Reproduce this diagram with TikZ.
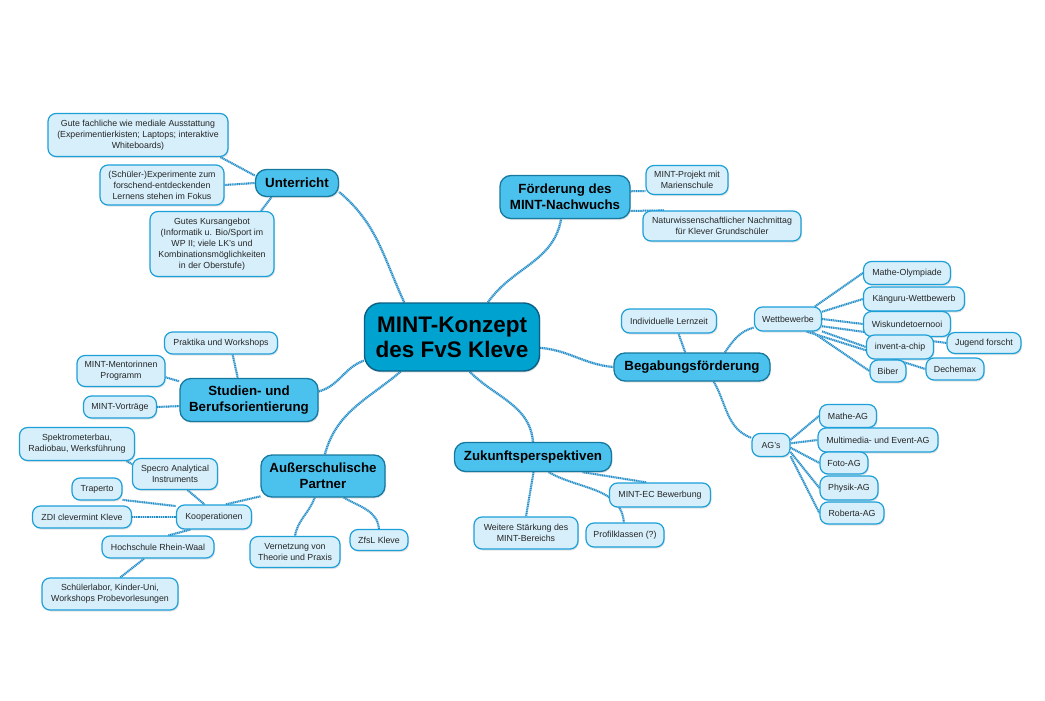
\documentclass[tikz,border=0pt]{standalone}
\usepackage{fontspec}
\setmainfont{Liberation Sans}
\usetikzlibrary{backgrounds,shadows}
\definecolor{hubfill}{HTML}{00A2D0}
\definecolor{hubline}{HTML}{0B5F84}
\definecolor{topfill}{HTML}{4BC2ED}
\definecolor{topline}{HTML}{16799F}
\definecolor{leaffill}{HTML}{D6EFFB}
\definecolor{leafline}{HTML}{1D9FD8}
\definecolor{linecol}{HTML}{1F8CC8}
\tikzset{
  shad/.style={drop shadow={opacity=0.22, shadow xshift=1pt, shadow yshift=-1.5pt}},
  hub/.style={shad, rectangle, rounded corners=16pt, draw=hubline, fill=hubfill, line width=1.4pt,
    font=\fontsize{22.5}{25}\selectfont\bfseries, align=center, inner sep=1pt},
  topic/.style={shad, rectangle, rounded corners=11pt, draw=topline, fill=topfill, line width=1.3pt,
    font=\fontsize{13.3}{16}\selectfont\bfseries, align=center, inner sep=1pt},
  leaf/.style={shad, rectangle, rounded corners=8pt, draw=leafline, fill=leaffill, line width=1.2pt,
    font=\fontsize{8.8}{11}\selectfont, align=center, inner sep=1pt, text=black!85},
  branch/.style={draw=linecol!40, line width=2.2pt,
    postaction={draw=linecol, line width=2.2pt, dash pattern=on 0.9pt off 0.9pt}},
  twig/.style={draw=linecol!40, line width=2pt,
    postaction={draw=linecol, line width=2pt, dash pattern=on 0.9pt off 0.9pt}},
}
\begin{document}
\begin{tikzpicture}[x=1pt, y=-1pt]
\useasboundingbox (0,0) rectangle (1045,701);

% centre
\node[hub, minimum width=175, minimum height=68] (c) at (452,337) {MINT-Konzept\\des FvS Kleve};

% Unterricht
\node[topic, minimum width=83, minimum height=27] (u) at (297,183) {Unterricht};
\node[leaf, minimum width=180, minimum height=43] (u1) at (138,135) {Gute fachliche wie mediale Ausstattung\\(Experimentierkisten; Laptops; interaktive\\Whiteboards)};
\node[leaf, minimum width=124, minimum height=40] (u2) at (162,185) {(Schüler-)Experimente zum\\forschend-entdeckenden\\Lernens stehen im Fokus};
\node[leaf, minimum width=124, minimum height=65] (u3) at (212,244) {Gutes Kursangebot\\(Informatik u. Bio/Sport im\\WP II; viele LK's und\\Kombinationsmöglichkeiten\\in der Oberstufe)};

% Foerderung
\node[topic, minimum width=130, minimum height=43] (f) at (565,197) {Förderung des\\MINT-Nachwuchs};
\node[leaf, minimum width=82, minimum height=29] (f1) at (687,180) {MINT-Projekt mit\\Marienschule};
\node[leaf, minimum width=158, minimum height=30] (f2) at (722,226) {Naturwissenschaftlicher Nachmittag\\für Klever Grundschüler};

% Begabungsfoerderung
\node[topic, minimum width=156, minimum height=28] (b) at (692,367) {Begabungsförderung};
\node[leaf, minimum width=95, minimum height=24] (il) at (669,321) {Individuelle Lernzeit};
\node[leaf, minimum width=67, minimum height=24] (w) at (788,319) {Wettbewerbe};
\node[leaf, minimum width=87, minimum height=23] (w1) at (907,273) {Mathe-Olympiade};
\node[leaf, minimum width=101, minimum height=24] (w2) at (914,299) {Känguru-Wettbewerb};
\node[leaf, minimum width=87, minimum height=25] (w3) at (907,324) {Wiskundetoernooi};
\node[leaf, minimum width=67, minimum height=24] (w4) at (900,347) {invent-a-chip};
\node[leaf, minimum width=74, minimum height=21] (w5) at (984,343) {Jugend forscht};
\node[leaf, minimum width=36, minimum height=22] (w6) at (888,371) {Biber};
\node[leaf, minimum width=58, minimum height=22] (w7) at (955,369) {Dechemax};
\node[leaf, minimum width=38, minimum height=23] (ag) at (771,445) {AG's};
\node[leaf, minimum width=57, minimum height=23] (a1) at (848,416) {Mathe-AG};
\node[leaf, minimum width=120, minimum height=24] (a2) at (878,440) {Multimedia- und Event-AG};
\node[leaf, minimum width=48, minimum height=22] (a3) at (844,463) {Foto-AG};
\node[leaf, minimum width=58, minimum height=24] (a4) at (849,488) {Physik-AG};
\node[leaf, minimum width=64, minimum height=22] (a5) at (852,513) {Roberta-AG};

% Studien- und Berufsorientierung
\node[topic, minimum width=138, minimum height=43] (s) at (249,400) {Studien- und\\Berufsorientierung};
\node[leaf, minimum width=113, minimum height=22] (s1) at (221,343) {Praktika und Workshops};
\node[leaf, minimum width=88, minimum height=31] (s2) at (121,371) {MINT-Mentorinnen\\Programm};
\node[leaf, minimum width=73, minimum height=22] (s3) at (120,407) {MINT-Vorträge};

% Ausserschulische Partner
\node[topic, minimum width=124, minimum height=42] (a) at (323,476) {Außerschulische\\Partner};
\node[leaf, minimum width=75, minimum height=24] (k) at (214,517) {Kooperationen};
\node[leaf, minimum width=115, minimum height=33] (k1) at (77,444) {Spektrometerbau,\\Radiobau, Werksführung};
\node[leaf, minimum width=85, minimum height=31] (k2) at (175,474) {Specro Analytical\\Instruments};
\node[leaf, minimum width=50, minimum height=22] (k3) at (97,489) {Traperto};
\node[leaf, minimum width=99, minimum height=22] (k4) at (82,517) {ZDI clevermint Kleve};
\node[leaf, minimum width=112, minimum height=22] (k5) at (158,547) {Hochschule Rhein-Waal};
\node[leaf, minimum width=136, minimum height=32] (k6) at (110,594) {Schülerlabor, Kinder-Uni,\\Workshops Probevorlesungen};
\node[leaf, minimum width=90, minimum height=31] (v) at (295,552) {Vernetzung von\\Theorie und Praxis};
\node[leaf, minimum width=58, minimum height=21] (zf) at (379,540) {ZfsL Kleve};

% Zukunftsperspektiven
\node[topic, minimum width=157, minimum height=29] (z) at (533,457) {Zukunftsperspektiven};
\node[leaf, minimum width=101, minimum height=24] (z1) at (660,495) {MINT-EC Bewerbung};
\node[leaf, minimum width=104, minimum height=32] (z2) at (526,533) {Weitere Stärkung des\\MINT-Bereichs};
\node[leaf, minimum width=78, minimum height=24] (z3) at (625,535) {Profilklassen (?)};

\begin{scope}[on background layer]
\fill[white] (0,0) rectangle (1045,701);
% main branches
\draw[branch] (c.144) to[out=115,in=-40] (u.-12);
\draw[branch] (c.44) to[out=55,in=-100] (f.-100);
\draw[branch] (c.-7) to[out=-5,in=175] (b.west);
\draw[branch] (c.195) to[out=200,in=15] (s.7);
\draw[branch] (c.214) to[out=-140,in=75] (a.85);
\draw[branch] (c.-63) to[out=-45,in=95] (z.north);
% Unterricht
\draw[twig] (u1.-15) -- (u.170);
\draw[twig] (u2.east) -- (u.west);
\draw[twig] (u3.34) -- (u.209);
% Foerderung
\draw[twig] (f.5) -- (f1.195);
\draw[twig] (f.-12) -- (f2.165);
% Begabung
\draw[twig] (b.115) -- (il.-53);
\draw[twig] (b.24) to[out=55,in=195] (w.194);
\draw[twig] (b.-34) to[out=-60,in=160] (ag.160);
\draw[twig] (w.25) -- (w1.west);
\draw[twig] (w.12) -- (w2.west);
\draw[twig] (w.0) -- (w3.west);
\draw[twig] (w.-12) -- (w5.west);
\draw[twig] (w.-20) -- (w4.west);
\draw[twig] (w.-28) -- (w6.west);
\draw[twig] (w.-34) -- (w7.west);
\draw[twig] (ag.15) -- (a1.west);
\draw[twig] (ag.5) -- (a2.west);
\draw[twig] (ag.-8) -- (a3.west);
\draw[twig] (ag.-20) -- (a4.west);
\draw[twig] (ag.-30) -- (a5.west);
% Studien
\draw[twig] (s1.-45) -- (s.117);
\draw[twig] (s2.-8) -- (s.165);
\draw[twig] (s3.east) -- (s.185);
% Ausserschulische Partner
\draw[twig] (a.198) -- (k.47);
\draw[twig] (a.249) to[out=-110,in=80] (v.north);
\draw[twig] (a.-46) to[out=-30,in=95] (zf.north);
\draw[twig] (k2.-52) -- (k.127);
\draw[twig] (k1.-19) -- (k2.167);
\draw[twig] (k3.-23) -- (k.164);
\draw[twig] (k4.east) -- (k.west);
\draw[twig] (k5.48) -- (k.208);
\draw[twig] (k6.58) -- (k5.220);
% Zukunft
\draw[twig] (z.-17) -- (z1.137);
\draw[twig] (z.-88) -- (z2.north);
\draw[twig] (z.-44) to[out=-30,in=95] (z3.95);
\end{scope}
\end{tikzpicture}
\end{document}
